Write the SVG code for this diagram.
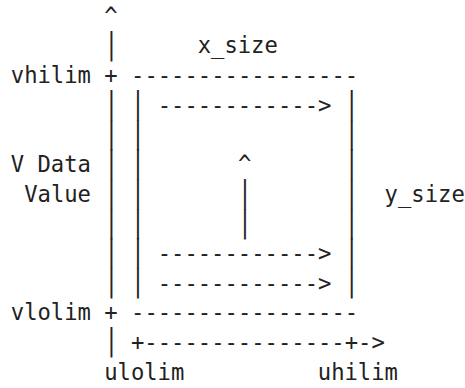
<svg xmlns="http://www.w3.org/2000/svg" width="465" height="388" viewBox="0 0 465 388">
<style>
text{font-family:"DejaVu Sans Mono","Liberation Mono",monospace;font-size:22.2px;fill:#222;white-space:pre}
.b{text-anchor:middle}
</style>
<defs>
<text id="bar" class="b" transform="scale(1,1.34)">|</text>
</defs>
<rect width="465" height="388" fill="#fff"/>
<g id="labels">
<text x="104.2" y="23.7">^</text>
<text x="197.7" y="53.35">x_size</text>
<text x="10.8" y="83" xml:space="preserve">vhilim + -----------------</text>
<text x="157.7" y="112.65">------------&gt;</text>
<text x="10.8" y="171.95">V Data</text>
<text x="237.9" y="171.95">^</text>
<text x="24.2" y="201.6">Value</text>
<text x="384.6" y="201.6">y_size</text>
<text x="157.7" y="260.9">------------&gt;</text>
<text x="157.7" y="290.55">------------&gt;</text>
<text x="10.8" y="320.2" xml:space="preserve">vlolim + -----------------</text>
<text x="131" y="349.85">+---------------+-&gt;</text>
<text x="104.2" y="379.5">ulolim</text>
<text x="317.8" y="379.5">uhilim</text>
</g>
<g id="bars">
<use href="#bar" x="0" y="0" transform="translate(111.3,53.85)"/>
<use href="#bar" transform="translate(111.3,113.15)"/>
<use href="#bar" transform="translate(138,113.15)"/>
<use href="#bar" transform="translate(351.6,113.15)"/>
<use href="#bar" transform="translate(111.3,142.8)"/>
<use href="#bar" transform="translate(138,142.8)"/>
<use href="#bar" transform="translate(351.6,142.8)"/>
<use href="#bar" transform="translate(111.3,172.45)"/>
<use href="#bar" transform="translate(138,172.45)"/>
<use href="#bar" transform="translate(351.6,172.45)"/>
<use href="#bar" transform="translate(111.3,202.1)"/>
<use href="#bar" transform="translate(138,202.1)"/>
<use href="#bar" transform="translate(244.8,202.1)"/>
<use href="#bar" transform="translate(351.6,202.1)"/>
<use href="#bar" transform="translate(111.3,231.75)"/>
<use href="#bar" transform="translate(138,231.75)"/>
<use href="#bar" transform="translate(244.8,231.75)"/>
<use href="#bar" transform="translate(351.6,231.75)"/>
<use href="#bar" transform="translate(111.3,261.4)"/>
<use href="#bar" transform="translate(138,261.4)"/>
<use href="#bar" transform="translate(351.6,261.4)"/>
<use href="#bar" transform="translate(111.3,291.05)"/>
<use href="#bar" transform="translate(138,291.05)"/>
<use href="#bar" transform="translate(351.6,291.05)"/>
<use href="#bar" transform="translate(111.3,350.35)"/>
</g>
</svg>
